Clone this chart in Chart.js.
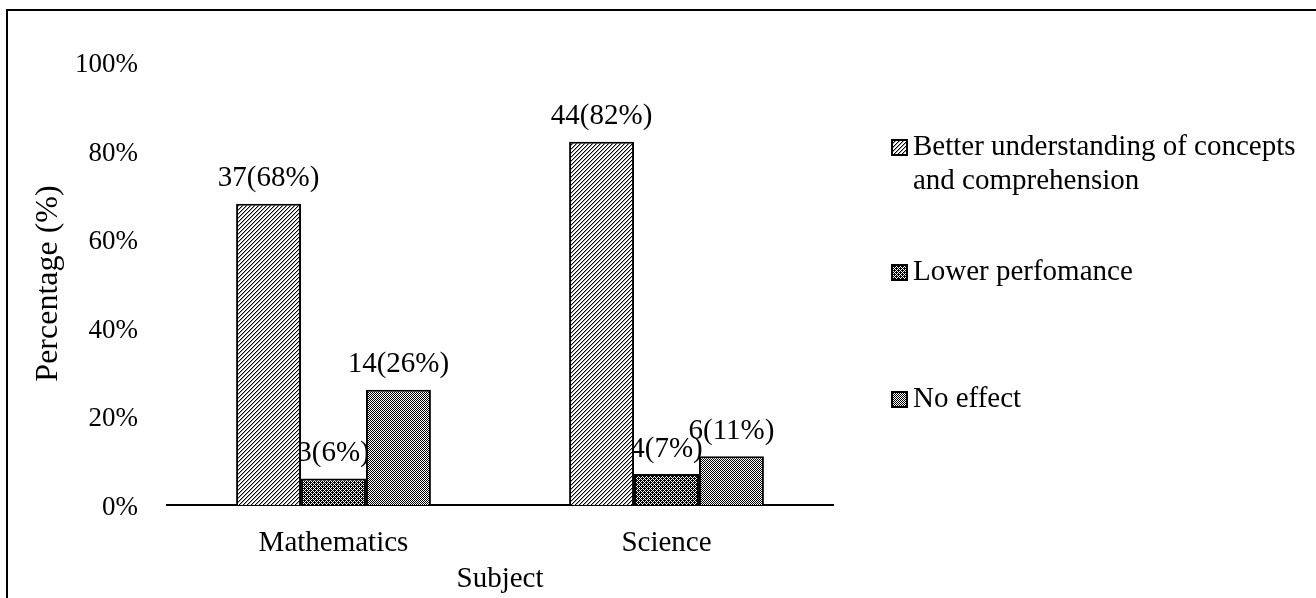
<!DOCTYPE html>
<html>
<head>
<meta charset="utf-8">
<title>Subject chart</title>
<script src="https://cdn.jsdelivr.net/npm/chart.js@4.4.1/dist/chart.umd.min.js"></script>
<style>
	html, body { margin: 0; padding: 0; background: #fff; }
	#chart { display: block; }
</style>
</head>
<body>
<canvas id="chart" width="1316" height="598"></canvas>
<script>
// Chart data
const subjects = ['Mathematics', 'Science'];
const seriesNames = [
	['Better understanding of concepts', 'and comprehension'],
	['Lower perfomance'],
	['No effect']
];
const betterCounts = [37, 44];
const betterPct = [68, 82];
const lowerCounts = [3, 4];
const lowerPct = [6, 7];
const noEffectCounts = [14, 6];
const noEffectPct = [26, 11];
const yTicks = [0, 20, 40, 60, 80, 100];

(() => {
	'use strict'

	const fontFamily = '"Liberation Serif", "Times New Roman", serif';
	const tickSize = 27;
	const textSize = 29;

	// Builds a small repeating canvas tile for bar fills
	function makePattern(size, paint) {
		const tile = document.createElement('canvas');
		tile.width = size;
		tile.height = size;
		const tctx = tile.getContext('2d');
		tctx.fillStyle = '#fff';
		tctx.fillRect(0, 0, size, size);
		paint(tctx);
		return document.getElementById('chart').getContext('2d').createPattern(tile, 'repeat');
	}

	// Wide upward diagonal hatch
	const hatchPattern = makePattern(4, (c) => {
		for (let x = 0; x < 4; x++) {
			c.fillStyle = '#000';
			c.fillRect(x, 3 - x, 1, 1);
			c.fillStyle = '#a8a8a8';
			c.fillRect((x + 1) % 4, 3 - x, 1, 1);
		}
	});

	// Dark dotted grid
	const darkPattern = makePattern(4, (c) => {
		c.fillStyle = '#000';
		for (let y = 0; y < 4; y++) {
			for (let x = 0; x < 4; x++) {
				if ((x + y) % 2 === 1 || (x === 0 && y === 0) || (x === 2 && y === 2)) {
					c.fillRect(x, y, 1, 1);
				}
			}
		}
	});

	// Fine checkerboard
	const checkPattern = makePattern(2, (c) => {
		c.fillStyle = '#000';
		c.fillRect(0, 0, 1, 1);
		c.fillRect(1, 1, 1, 1);
	});

	const patterns = [hatchPattern, darkPattern, checkPattern];
	const counts = [betterCounts, lowerCounts, noEffectCounts];

	// Frame, value labels and the legend on the right
	const decorPlugin = {
		id: 'decor',
		beforeDraw(chart) {
			const ctx = chart.ctx;
			ctx.save();
			ctx.fillStyle = '#fff';
			ctx.fillRect(0, 0, chart.width, chart.height);
			ctx.fillStyle = '#000';
			ctx.fillRect(6, 9, 2, chart.height - 9);
			ctx.fillRect(6, 9, chart.width - 6, 2);
			ctx.restore();
		},
		beforeDatasetsDraw(chart) {
			const ctx = chart.ctx;
			ctx.save();
			ctx.font = textSize + 'px ' + fontFamily;
			ctx.fillStyle = '#000';
			ctx.textAlign = 'center';
			ctx.textBaseline = 'middle';
			chart.data.datasets.forEach((ds, d) => {
				chart.getDatasetMeta(d).data.forEach((bar, i) => {
					ctx.fillText(counts[d][i] + '(' + ds.data[i] + '%)', bar.x, bar.y - 25);
				});
			});
			ctx.restore();
		},
		afterDraw(chart) {
			const ctx = chart.ctx;
			const legendX = 892;
			const legendY = [147, 272, 399];
			ctx.save();
			ctx.font = textSize + 'px ' + fontFamily;
			ctx.textAlign = 'left';
			ctx.textBaseline = 'middle';
			seriesNames.forEach((lines, d) => {
				const y = legendY[d];
				ctx.fillStyle = patterns[d];
				ctx.fillRect(legendX, y - 7, 15, 15);
				ctx.lineWidth = 2;
				ctx.strokeStyle = '#000';
				ctx.strokeRect(legendX, y - 7, 15, 15);
				ctx.fillStyle = '#000';
				lines.forEach((line, k) => {
					ctx.fillText(line, legendX + 21, y + k * 34);
				});
			});
			ctx.restore();
		}
	};

	const chartData = {
		labels: subjects,
		datasets: [betterPct, lowerPct, noEffectPct].map((values, d) => ({
			label: seriesNames[d].join(' '),
			data: values,
			backgroundColor: patterns[d],
			borderColor: '#000',
			borderWidth: 2,
			barPercentage: 1,
			categoryPercentage: 0.585
		}))
	};

	const chartConfig = {
		type: 'bar',
		data: chartData,
		options: {
			responsive: false,
			animation: false,
			layout: {
				padding: { left: 0, top: 62, right: 483, bottom: 0 }
			},
			plugins: {
				legend: { display: false },
				tooltip: { enabled: false },
				title: { display: false }
			},
			scales: {
				x: {
					grid: { display: false, drawTicks: false },
					border: { display: true, color: '#000', width: 2 },
					ticks: {
						color: '#000',
						padding: 21,
						font: { family: fontFamily, size: textSize }
					},
					title: {
						display: true,
						text: 'Subject',
						color: '#000',
						padding: { top: 0, bottom: 1 },
						font: { family: fontFamily, size: textSize }
					},
					afterFit(scale) { scale.height = 93; }
				},
				y: {
					min: 0,
					max: 100,
					afterBuildTicks(scale) {
						scale.ticks = yTicks.map((v) => ({ value: v }));
					},
					grid: { display: false, drawTicks: false },
					border: { display: false },
					ticks: {
						color: '#000',
						padding: 29,
						labelOffset: 3,
						font: { family: fontFamily, size: tickSize },
						callback: (v) => v + '%'
					},
					title: {
						display: true,
						text: 'Percentage (%)',
						color: '#000',
						padding: { top: 29, bottom: 0 },
						font: { family: fontFamily, size: 32 }
					},
					afterFit(scale) { scale.width = 167; }
				}
			}
		},
		plugins: [decorPlugin]
	};

	const myChart = new Chart(document.getElementById('chart'), chartConfig);
})()
</script>
</body>
</html>
